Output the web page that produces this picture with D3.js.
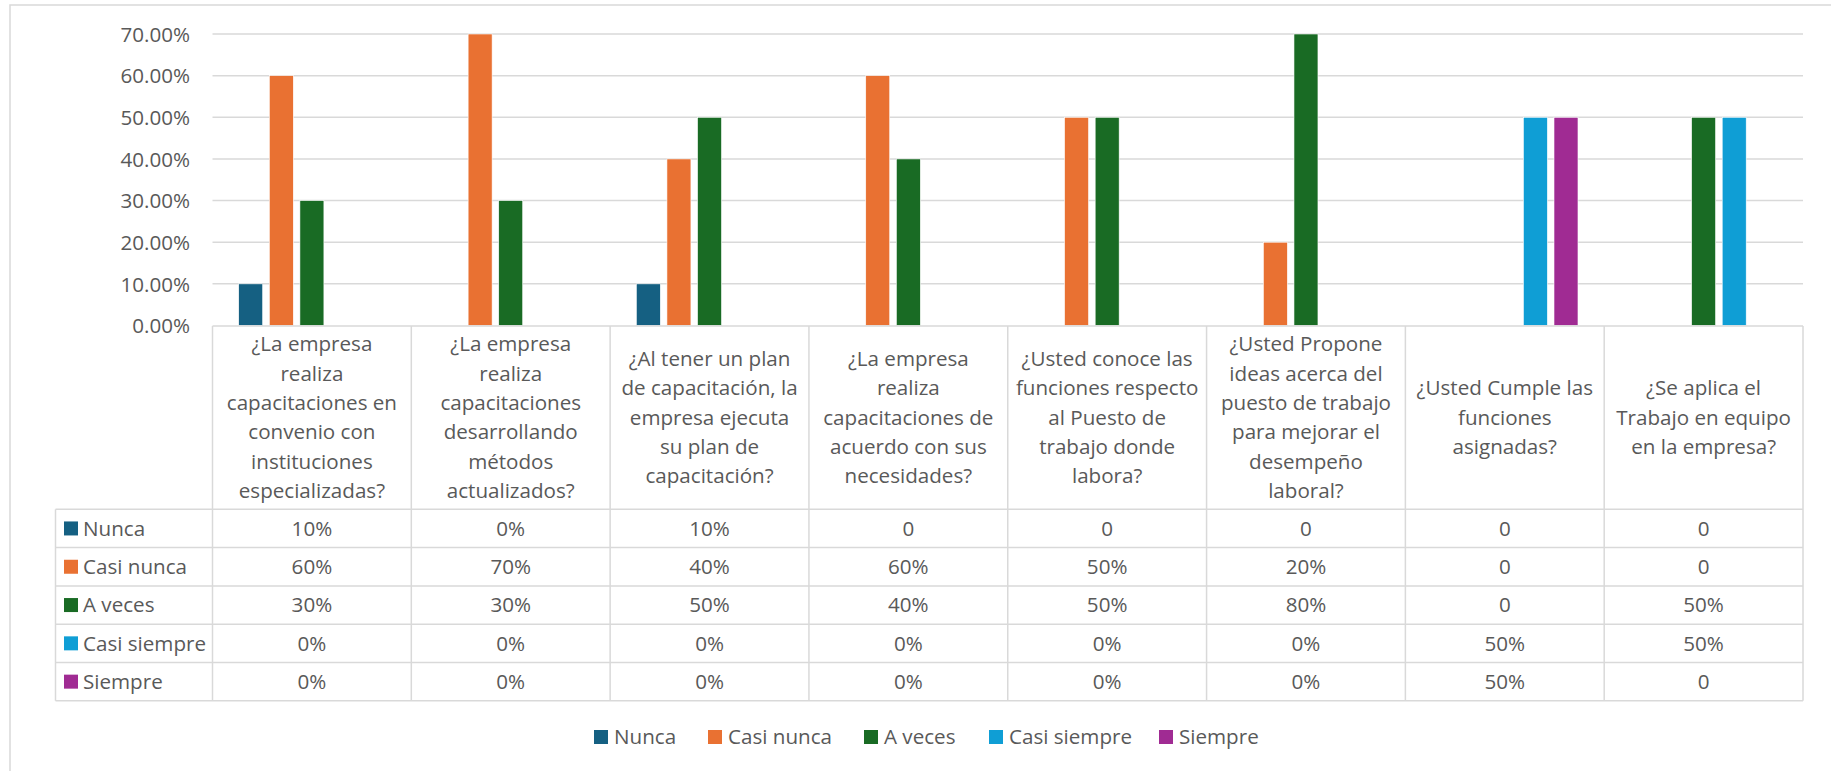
<!DOCTYPE html>
<html>
<head>
<meta charset="utf-8">
<script src="https://cdn.jsdelivr.net/npm/d3@7"></script>
<style>
  html, body { margin: 0; padding: 0; background: #fff; }
  svg { display: block; font-family: "Open Sans", sans-serif; }
</style>
</head>
<body>
<svg id="chart" width="1831" height="771"></svg>
<script>
// ---------- DATA ----------
const categories = [
  ["¿La empresa", "realiza", "capacitaciones en", "convenio con", "instituciones", "especializadas?"],
  ["¿La empresa", "realiza", "capacitaciones", "desarrollando", "métodos", "actualizados?"],
  ["¿Al tener un plan", "de capacitación, la", "empresa ejecuta", "su plan de", "capacitación?"],
  ["¿La empresa", "realiza", "capacitaciones de", "acuerdo con sus", "necesidades?"],
  ["¿Usted conoce las", "funciones respecto", "al Puesto de", "trabajo donde", "labora?"],
  ["¿Usted Propone", "ideas acerca del", "puesto de trabajo", "para mejorar el", "desempeño", "laboral?"],
  ["¿Usted Cumple las", "funciones", "asignadas?"],
  ["¿Se aplica el", "Trabajo en equipo", "en la empresa?"]
];
const seriesNames = ["Nunca", "Casi nunca", "A veces", "Casi siempre", "Siempre"];
const seriesColors = ["#156082", "#E97132", "#196B24", "#0F9ED5", "#A02B93"];

const nunca       = [0.10, 0.00, 0.10, 0.00, 0.00, 0.00, 0.00, 0.00];
const casiNunca   = [0.60, 0.70, 0.40, 0.60, 0.50, 0.20, 0.00, 0.00];
const aVeces      = [0.30, 0.30, 0.50, 0.40, 0.50, 0.80, 0.00, 0.50];
const casiSiempre = [0.00, 0.00, 0.00, 0.00, 0.00, 0.00, 0.50, 0.50];
const siempre     = [0.00, 0.00, 0.00, 0.00, 0.00, 0.00, 0.50, 0.00];

const nuncaLabels       = ["10%", "0%", "10%", "0", "0", "0", "0", "0"];
const casiNuncaLabels   = ["60%", "70%", "40%", "60%", "50%", "20%", "0", "0"];
const aVecesLabels      = ["30%", "30%", "50%", "40%", "50%", "80%", "0", "50%"];
const casiSiempreLabels = ["0%", "0%", "0%", "0%", "0%", "0%", "50%", "50%"];
const siempreLabels     = ["0%", "0%", "0%", "0%", "0%", "0%", "50%", "0"];

const yTicks = [0, 0.1, 0.2, 0.3, 0.4, 0.5, 0.6, 0.7];

const seriesValues = [nunca, casiNunca, aVeces, casiSiempre, siempre];
const seriesLabels = [nuncaLabels, casiNuncaLabels, aVecesLabels, casiSiempreLabels, siempreLabels];

// ---------- LAYOUT ----------
const svg = d3.select("#chart");
const textColor = "#595959";
const lineColor = "#d9d9d9";
const fontSize = 20.6;

const plotLeft = 212.5, plotRight = 1803;
const plotTop = 34, plotBottom = 325.5;
const catBoxBottom = 509.3;
const rowH = 38.3;
const tableLeft = 55.5;

const catIdx = categories.map((d, i) => i);
const x0 = d3.scaleBand().domain(catIdx).range([plotLeft, plotRight]).padding(0);
const x1 = d3.scaleBand().domain(d3.range(seriesNames.length))
  .range([0, x0.bandwidth()]).paddingInner(0.216).paddingOuter(0.856);
const y = d3.scaleLinear().domain([0, 0.7]).range([plotBottom, plotTop]).clamp(true);

// outer chart border (left and top visible)
svg.append("rect").attr("x", 10).attr("y", 5).attr("width", 1900).attr("height", 900)
  .attr("fill", "none").attr("stroke", lineColor).attr("stroke-width", 1.5);

// gridlines
svg.append("g").selectAll("line").data(yTicks.filter(t => t > 0)).join("line")
  .attr("x1", plotLeft).attr("x2", plotRight)
  .attr("y1", d => y(d)).attr("y2", d => y(d))
  .attr("stroke", lineColor).attr("stroke-width", 1.5);

// y axis labels
const yAxis = d3.axisLeft(y).tickValues(yTicks).tickFormat(d3.format(".2%")).tickSize(0).tickPadding(0);
const yg = svg.append("g").attr("transform", `translate(190,0)`).call(yAxis);
yg.select(".domain").remove();
yg.selectAll("text").attr("fill", textColor).style("font-size", fontSize + "px")
  .style("font-family", '"Open Sans", sans-serif').attr("dy", "0.35em");

// bars
const barData = [];
seriesValues.forEach((vals, s) => vals.forEach((v, c) => barData.push({s, c, v})));
svg.append("g").selectAll("rect").data(barData.filter(d => d.v > 0)).join("rect")
  .attr("x", d => x0(d.c) + x1(d.s))
  .attr("width", x1.bandwidth())
  .attr("y", d => y(d.v))
  .attr("height", d => y(0) - y(d.v))
  .attr("fill", d => seriesColors[d.s])
  .attr("stroke", "#ffffff").attr("stroke-width", 0.6);

// category box + table grid
const g = svg.append("g").attr("stroke", lineColor).attr("stroke-width", 1.5).attr("fill", "none");
const tableBottom = catBoxBottom + rowH * seriesNames.length;
g.append("line").attr("x1", plotLeft).attr("x2", plotRight).attr("y1", plotBottom + 0.5).attr("y2", plotBottom + 0.5);
const vx = catIdx.map(i => x0(i)).concat([plotRight]);
g.selectAll("line.v").data(vx).join("line").attr("class", "v")
  .attr("x1", d => d).attr("x2", d => d).attr("y1", plotBottom + 0.5).attr("y2", tableBottom);
g.append("line").attr("x1", tableLeft).attr("x2", tableLeft).attr("y1", catBoxBottom).attr("y2", tableBottom);
g.selectAll("line.h").data(d3.range(seriesNames.length + 1)).join("line").attr("class", "h")
  .attr("x1", tableLeft).attr("x2", plotRight)
  .attr("y1", d => catBoxBottom + d * rowH).attr("y2", d => catBoxBottom + d * rowH);

// category labels
const lineH = 29.3;
const catMid = (plotBottom + catBoxBottom) / 2;
const catG = svg.append("g").attr("fill", textColor).style("font-size", fontSize + "px").attr("text-anchor", "middle");
categories.forEach((lines, i) => {
  const cx = x0(i) + x0.bandwidth() / 2;
  const startY = catMid - (lines.length - 1) / 2 * lineH;
  const t = catG.append("text");
  lines.forEach((ln, k) => {
    t.append("tspan").attr("x", cx).attr("y", startY + k * lineH).attr("dy", "0.35em").text(ln);
  });
});

// table rows
const tG = svg.append("g").style("font-size", fontSize + "px");
seriesNames.forEach((name, s) => {
  const rowMid = catBoxBottom + s * rowH + rowH / 2;
  tG.append("rect").attr("x", 64).attr("y", rowMid - 7).attr("width", 14).attr("height", 14)
    .attr("fill", seriesColors[s]);
  tG.append("text").attr("x", 83).attr("y", rowMid).attr("dy", "0.35em")
    .attr("fill", textColor).text(name);
  seriesLabels[s].forEach((lab, c) => {
    tG.append("text").attr("x", x0(c) + x0.bandwidth() / 2).attr("y", rowMid).attr("dy", "0.35em")
      .attr("text-anchor", "middle").attr("fill", textColor).text(lab);
  });
});

// legend
const legendX = [594, 708, 864, 989, 1159];
const legY = 737;
const lg = svg.append("g").style("font-size", fontSize + "px");
seriesNames.forEach((name, s) => {
  lg.append("rect").attr("x", legendX[s]).attr("y", legY - 7).attr("width", 14).attr("height", 14)
    .attr("fill", seriesColors[s]);
  lg.append("text").attr("x", legendX[s] + 20).attr("y", legY).attr("dy", "0.35em")
    .attr("fill", textColor).text(name);
});
</script>
</body>
</html>
